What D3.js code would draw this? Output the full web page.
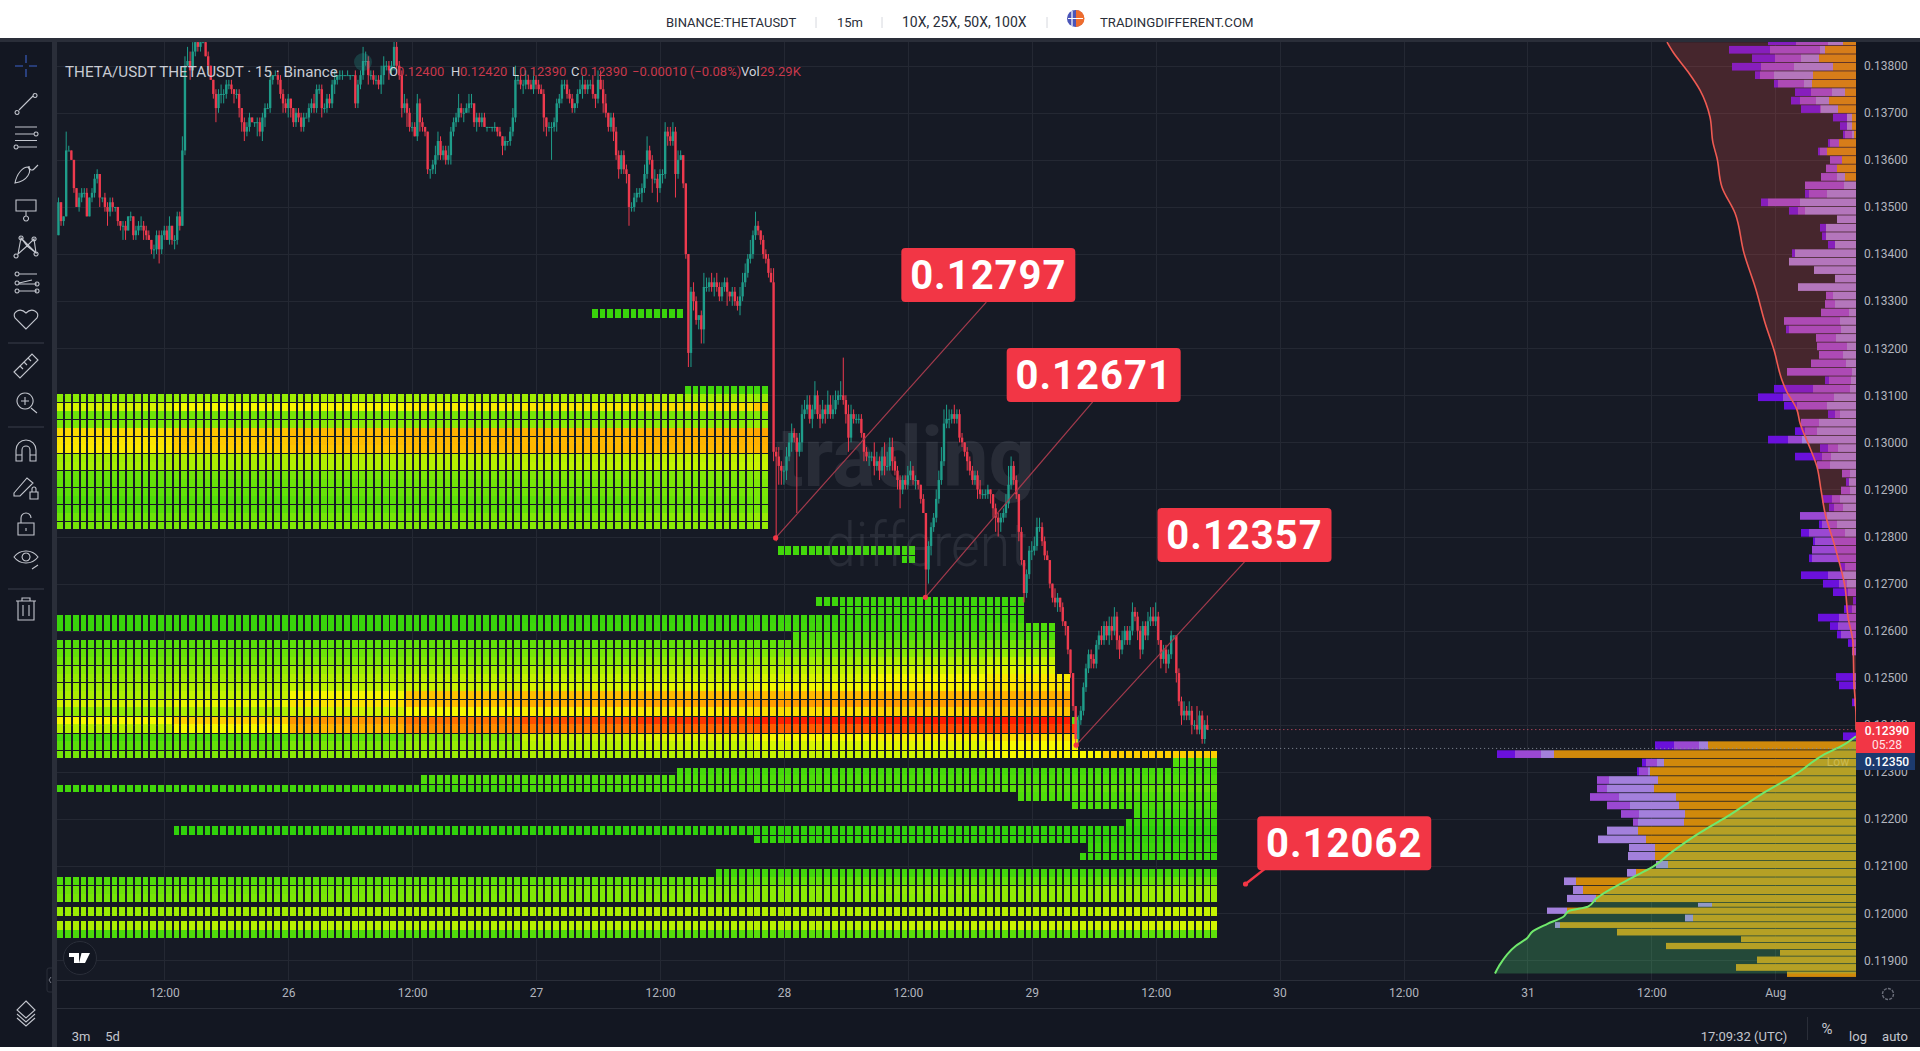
<!DOCTYPE html>
<html lang="en">

<head>
    <meta charset="UTF-8">
    <title>THETA/USDT</title>
    <style>
        html, body { margin: 0; padding: 0; background: #fff; overflow: hidden; }
        svg { display: block; font-family: Roboto, sans-serif; }
    </style>
</head>

<body>
    <script src="https://cdn.jsdelivr.net/npm/d3@7"></script>
    <script>
        // prices in tenths of a thousandth (0.0001)
        const firstOpen = 1344;
        const closes = [
            1351,1347,1348,1362,1362,1360,1354,1350,1352,1353, 1353,1348,1352,1353,1356,1357,1352,1352,1350,1349,
            1351,1350,1350,1347,1346,1346,1345,1348,1348,1344, 1345,1346,1346,1345,1344,1343,1341,1341,1344,1341,
            1344,1345,1343,1346,1343,1343,1348,1346,1362,1380, 1381,1379,1383,1385,1384,1385,1385,1382,1380,1377,
            1374,1371,1374,1374,1374,1376,1376,1375,1374,1374, 1371,1368,1366,1367,1369,1368,1368,1368,1366,1369,
            1371,1371,1377,1378,1378,1377,1374,1372,1371,1373, 1371,1368,1370,1369,1367,1369,1369,1371,1372,1371,
            1375,1375,1371,1371,1373,1372,1376,1377,1378,1378, 1378,1378,1378,1378,1378,1372,1376,1378,1381,1381,
            1378,1378,1377,1377,1376,1378,1380,1380,1379,1380, 1384,1380,1378,1371,1372,1370,1367,1367,1365,1372,
            1368,1367,1366,1358,1358,1359,1361,1364,1361,1362, 1360,1361,1366,1368,1369,1371,1370,1370,1371,1372,
            1372,1368,1369,1368,1369,1367,1367,1367,1367,1367, 1366,1365,1363,1364,1364,1366,1369,1377,1377,1376,
            1376,1377,1376,1375,1377,1376,1375,1374,1369,1367, 1367,1367,1368,1372,1373,1376,1376,1374,1373,1371,
            1372,1374,1375,1376,1375,1376,1376,1374,1373,1377, 1375,1372,1370,1367,1369,1366,1361,1358,1361,1358,
            1357,1350,1350,1352,1353,1353,1354,1357,1362,1360, 1356,1356,1354,1357,1357,1366,1365,1364,1366,1357,
            1360,1361,1355,1340,1319,1332,1330,1326,1327,1324, 1333,1333,1334,1333,1334,1333,1331,1333,1334,1332,
            1331,1332,1330,1329,1331,1334,1336,1339,1340,1344, 1346,1345,1343,1340,1339,1336,1334,1298,1297,1295,
            1294,1294,1297,1300,1302,1301,1298,1300,1306,1307, 1308,1305,1307,1310,1306,1305,1307,1306,1308,1306,
            1307,1309,1310,1310,1309,1306,1301,1306,1305,1305, 1305,1302,1298,1297,1297,1297,1295,1296,1294,1297,
            1295,1295,1299,1296,1294,1292,1290,1292,1291,1293, 1294,1292,1292,1291,1288,1285,1273,1278,1282,1284,
            1288,1292,1296,1304,1305,1305,1306,1305,1306,1301, 1300,1298,1296,1294,1292,1293,1290,1289,1289,1289,
            1290,1289,1286,1284,1283,1284,1285,1287,1291,1295, 1292,1289,1281,1275,1268,1272,1277,1277,1278,1282,
            1282,1279,1276,1275,1270,1267,1266,1267,1265,1262, 1261,1256,1251,1244,1237,1241,1243,1248,1252,1255,
            1254,1253,1257,1259,1258,1261,1259,1261,1260,1263, 1258,1256,1258,1260,1258,1260,1264,1263,1260,1256,
            1261,1259,1262,1263,1262,1263,1258,1254,1256,1253, 1255,1259,1259,1251,1245,1242,1243,1242,1243,1240,
            1240,1239,1242,1237,1240,1239
        ];
        const wickUp = [
            1,0,0,4,1,0,0,0,1,1, 1,1,0,1,1,1,0,0,1,1, 1,1,0,0,0,1,1,0,1,0, 1,1,2,1,1,1,0,1,1,1,
            1,1,1,2,0,1,1,1,3,2, 3,2,2,2,1,1,0,1,1,0, 0,1,1,2,1,1,1,1,0,1, 1,0,1,1,1,0,0,1,1,1,
            1,1,2,0,1,1,1,1,1,1, 0,0,1,1,1,1,1,1,1,2, 1,1,1,1,1,1,1,2,0,1, 1,0,1,0,0,1,1,1,3,2,
            1,1,1,1,1,2,2,1,1,1, 2,2,1,1,2,1,1,1,1,2, 1,1,0,0,0,1,2,2,1,1, 1,2,1,1,1,3,1,1,1,2,
            2,0,1,1,1,1,0,0,0,1, 0,1,0,1,0,1,2,3,1,1, 1,2,1,1,2,1,1,1,1,0, 1,1,1,1,1,1,1,1,1,1,
            0,1,2,2,1,1,1,2,0,2, 2,2,2,0,1,1,1,1,1,1, 1,0,1,1,1,1,1,2,3,1, 1,2,1,1,1,2,1,2,2,1,
            2,1,0,0,0,1,2,1,0,1, 3,2,1,2,1,2,1,1,1,1, 0,1,1,1,2,2,2,1,3,1, 3,1,0,1,1,1,1,3,1,2,
            1,1,2,2,2,1,1,2,2,2, 2,2,1,3,1,2,2,1,3,2, 3,2,1,3,8,1,2,2,1,1, 1,1,0,1,1,1,3,2,1,2,
            3,3,2,2,1,1,1,1,1,2, 2,1,1,0,0,1,0,1,1,1, 2,2,3,3,3,2,1,2,1,1, 1,0,1,1,1,1,1,2,1,1,
            1,0,0,1,1,1,1,2,4,2, 1,1,0,1,0,1,1,2,2,2, 2,1,1,1,0,0,2,1,0,1, 0,0,0,0,0,1,1,1,1,1,
            1,1,1,1,2,1,1,2,2,2, 1,1,2,1,1,1,2,1,1,1, 1,1,2,2,2,3,1,0,1,1, 1,1,0,0,1,1,2,1,2,1,
            1,4,1,1,1,2
        ];
        const wickDown = [
            0,1,1,0,0,0,1,0,1,1, 1,0,0,1,1,1,2,1,1,3, 1,1,1,1,1,3,2,0,1,1, 1,1,1,2,1,0,1,2,1,3,
            1,1,0,1,1,2,1,1,0,1, 0,2,0,1,1,1,0,0,1,0, 1,3,1,2,2,1,1,1,2,1, 2,2,2,1,1,0,1,3,1,2,
            2,0,1,1,0,1,1,2,1,2, 2,1,1,1,1,1,0,1,1,1, 1,1,2,1,1,1,1,2,1,1, 1,0,0,1,0,1,1,1,1,1,
            2,1,1,1,1,2,2,1,2,1, 1,1,1,2,1,3,1,1,0,1, 2,1,1,1,2,1,2,1,1,1, 1,1,2,1,1,1,1,2,0,1,
            1,1,2,1,1,0,1,0,1,1, 1,0,2,1,1,1,1,1,1,1, 2,1,1,0,1,1,1,0,3,2, 1,7,1,2,1,1,1,1,1,1,
            1,1,0,2,1,1,1,1,2,1, 0,2,1,1,1,2,1,2,1,1, 2,4,1,1,1,1,2,1,1,1, 3,1,3,1,2,1,2,1,1,5,
            1,0,1,1,3,3,2,1,2,3, 3,1,1,1,2,1,1,1,1,3, 1,2,1,1,2,1,1,1,1,1, 1,1,1,1,1,1,0,2,18,4,
            3,3,2,1,2,1,13,1,2,1, 1,1,2,1,1,2,1,2,1,1, 1,1,1,1,1,2,3,1,1,1, 1,1,2,1,2,1,2,1,2,1,
            2,1,1,2,1,2,4,1,1,1, 1,1,2,1,1,0,6,3,2,1, 1,1,1,1,1,2,1,1,1,1, 1,1,2,1,1,1,2,1,1,1,
            1,2,2,3,3,2,1,1,1,1, 1,1,2,1,2,1,1,2,1,1, 1,1,1,0,1,1,1,2,1,1, 2,1,1,1,1,1,1,1,1,1,
            2,1,1,1,1,1,1,2,2,1, 2,2,1,1,1,1,1,1,2,2, 1,1,1,1,1,1,1,2,1,2, 1,1,1,2,1,2,1,1,1,2,
            1,1,1,1,1,0
        ];

        // liquidation heat map: [row, first column, last column + 1, level per 15 columns]
        const heatRow = [-36,-27,-26,-25,-24,-23,-22,-21,-20,-19,-18,-17,-16,-15,-14,-13,-12,-11,-8,-7,-2,-1,0,1,2,3,4,5,6,7,8,9,10,11,12,12,13,14,15,16,17,18,19,20,21,22,23,24,25,26,27,28,30,31,32,33,34.55,36.2,37.2];
        const heatFrom = [69,81,0,0,0,0,0,0,0,0,0,0,0,0,0,0,0,0,93,109,98,101,0,0,95,0,0,0,0,0,0,0,0,0,0,131,0,0,0,0,144,80,47,0,124,131,139,138,15,90,133,132,85,0,0,0,0,0,0];
        const heatTo = [81,92,92,92,92,92,92,92,92,92,92,92,92,92,92,92,92,92,111,111,125,125,125,129,129,129,129,129,129,131,131,131,131,131,131,132,132,132,132,150,150,150,150,150,150,150,150,150,150,150,150,150,150,150,150,150,150,150,150];
        const heatLevels = [
            [.5],[.7],
            [2.2,2.4,2.6,2.6,2.6,2.6,2.4],[3.5,4,4,4.2,4.3,4.5,5],[1.6,1.7,1.8,1.8,1.8,1.8,2],[1.9,2.1,2.2,2.2,2.2,2.2,2.4],
            [4.6,5,5.3,5.5,5.5,5.6,5.8],[4.4,4.9,5.2,5.3,5.3,5.4,5.5],[4.3,4.8,5,5.2,5.3,5.3,5.4],[2.6,2.8,2.9,3,3,3.1,3.2],
            [2.7,2.8,2.9,3,3.1,3.2,3.3],[1.5,1.7,1.8,1.9,2,2,2.2],[1.4,1.5,1.6,1.7,1.8,1.9,2],[1.3,1.4,1.5,1.6,1.7,1.8,1.9],
            [1,1.1,1.2,1.3,1.3,1.5,1.8],[1.1,1.2,1.3,1.3,1.4,1.6,1.8],[1.6,1.7,1.8,1.9,2,2.2,2.4],[1.8,1.9,2,2,2.1,2.2,2.4],
            [.7],[.6],[.6],[.6],
            [.5,.5,.5,.5,.5,.5,.6,.6,.6],[.5,.5,.5,.5,.6,.6,.7,.7,1],[1],[1.1,1.2,1.3,1.4,1.4,1.4,1.4,1.5,1.7],
            [1.4,1.5,1.6,1.7,1.8,1.9,2,2.1,2.3],[1.7,1.8,2,2.1,2.2,2.4,2.6,2.9,3.2],[2.1,2.3,2.5,2.6,2.8,3,3.1,3.4,3.7],
            [2.4,2.6,2.9,3.1,3.2,3.3,3.5,4,4.3],[2.6,2.9,3.1,3.3,3.5,3.7,3.9,4.1,4.4],[2.8,3.2,4,5,5.2,5.3,5.3,5.4,5.5],
            [3.4,3.8,4.4,5.2,5.6,5.8,6,6,6],[2.3,2.8,3.4,4,4.2,4.3,4.5,4.7,5],[4,4.8,6.2,7.2,8,8.5,8.9,9,9],[1.5],
            [3,4,5.4,6.4,7,7.4,7.7,8,8.2],[.8,.9,1.3,2,3.2,3.6,4,4.2,4.5],[1.2,1.4,1.9,2.4,3,3.2,3.5,3.7,4],
            [1.8,2,2.2,2.5,2.8,3,3.2,3.4,4,4.8],[1],[.8],[1],[.7,.7,.7,.7,.9,1,1.1,1.1,1.2,1.4],
            [1],[.9],[.7],[.5],[.3],[.4],[.6],[.5],[.7],
            [1,1.1,1.2,1.3,1.3,1.3,1.4,1.4,1.4,1.5],[1.6,1.7,1.8,1.9,2,2,2.2,2.3,2.3,2.5],[1.8,1.9,1.9,2,2,2.1,2.2,2.2,2.3,2.5],
            [2.5,2.6,2.7,2.8,2.8,2.9,2.9,3,3,3.2],[2.8,3,3,3,3,3,3,3.2,3.3,3.4],[.9,1,1,1,1.1,1.1,1.2,1.2,1.2,1.3]
        ];
        const heatBasePrice = 12635;
        const heatBin = 18;

        // volume profile above the low, one bin per 0.00018
        const vpUpperFirst = 13860;
        const vpUpperBin = 18;
        const vpUpperOrange = [13,31,37,23,43,44,11,27,18,4, 4,2,17,29,14,19,11];
        const vpUpperLight = [15,5,18,39,39,8,13,13,17,5, 5,2,0,0,0,0,8,12,29,56, 51,19,30,30,21,61,67,42,21,58,
            23,21,7,16,15,20,9,13,10,4, 5,6,22,29,16,37,39,54,18,25, 26,6,7,6,16,13,29,19,11,0, 0,0,0,13,9];
        const vpUpperMid = [32,50,26,33,14,26,21,16,1,0, 0,7,9,7,12,11,16,39,18,32, 7,0,0,0,0,0,0,0,0,0,
            7,10,28,56,52,20,30,24,35,65, 22,37,51,30,5,18,12,14,10,9, 13,8,0,9,8,9,27,15,36,41,
            44,44,11,15,8,8,0,4,17,18, 15,4,4,0,0,3,3,0,2,0, 0,0,0];
        const vpUpperDeep = [28,41,23,29,5,4,16,9,19,14, 7,2,2,2,0,0,0,0,4,7, 9,0,6,4,7,3,0,0,0,0,
            0,0,0,0,3,0,0,0,0,0, 4,39,25,13,7,0,10,20,8,27, 0,0,3,0,10,5,0,3,8,2,
            0,3,5,27,16,15,3,8,21,8, 4,4,0,0,0,17,14,0,2,0, 0,0,13];
        const vpUpperBins = 83;

        // volume profile below the low, row tops as read
        const vpLowerTop = [12365,12346,12328,12310,12291,12273,12255,12237,12219,12201,12184,12165,12147,12130,12111,12094,12076,12058,12039,12022,12012,11997,11981,11967,11951,11937,11922,11908,11892,11876];
        const vpLowerOrange = [148,302,192,206,198,202,180,177,171,172,218,210,201,201,188,220,280,273,260,144,289,163,296,239,115,190,76,99,120,69];
        const vpLowerLight = [9,13,7,2,49,47,57,49,46,46,31,48,26,27,12,9,12,10,29,14,20,8,5,0,0,0,0,0,0,0];
        const vpLowerMid = [25,26,11,9,12,10,29,23,18,5];
        const vpLowerDeep = [19,18,4,2];
        const vpBottom = 11863;

        // the two profile curves, price and volume
        const sellCurvePrice = [13850,13829,13787,13748,13691,13636,13604,13542,13487,13402,13324,13254,13196,13132,13111,13069,13041,12988,12948,12899,12850,12778,12693,12629,12574,12489,12417,12390];
        const sellCurveVol = [189,183,168,156,146,143,139,134,121,112,100,91,82,74,70,59,56,46,39,35,31,21,11,8,3,2,0,0];
        const buyCurvePrice = [11872,11888,11931,11947,11962,11977,11992,12005,12014,12031,12081,12099,12127,12171,12205,12251,12297,12336,12357,12376];
        const buyCurveVol = [361,357,340,329,323,309,293,287,268,260,219,203,186,156,129,96,59,33,13,0];

        const priceTicks = [13800,13700,13600,13500,13400,13300,13200,13100,13000,12900,12800,12700,12600,12500,12400,12300,12200,12100,12000,11900];
        const timeTicks = [12,24,36,48,60,72,84,96,108,120,132,144,156,168];
        const timeLabels = ['12:00','26','12:00','27','12:00','28','12:00','29','12:00','30','12:00','31','12:00','Aug'];

        // the drawn targets: label, start hour, end hour, end price
        const targetLabels = ['0.12797','0.12671','0.12357','0.12062'];
        const targetPrice = [12797,12671,12357,12062];
        const targetHour = [71.2,85.7,100.3,116.7];
        const targetEndHour = [91.6,101.9,116.6,118.9];
        const targetEndPrice = [13298,13086,12746,12100];

        const lastPrice = 12390;
        const lowPrice = 12350;

        const WIDTH = 1920, HEIGHT = 1051;
        const PANE = { left: 57, right: 1856, top: 42, bottom: 980 };

        const y = d3.scaleLinear().domain([13800, 11900]).range([65.7, 960.3]);
        const x = d3.scaleLinear().domain([12, 168]).range([164.3, 1775.3]);
        const vp = d3.scaleLinear().domain([0, 359]).range([1856, 1497]);
        const heatColor = d3.scaleLinear()
            .domain([0, 1, 2, 3, 4, 5, 6, 7, 8, 9])
            .range(['#22cc0c', '#4fdc0a', '#7fe806', '#b6f000', '#f6f800', '#ffc400', '#ff9c00', '#ff7a00', '#ff4f00', '#ff1a00'])
            .clamp(true);

        const svg = d3.select('body').append('svg').attr('width', WIDTH).attr('height', HEIGHT);

        svg.append('rect').attr('width', WIDTH).attr('height', HEIGHT).attr('fill', '#131722');
        svg.append('rect').attr('x', PANE.left).attr('y', PANE.top)
            .attr('width', PANE.right - PANE.left).attr('height', PANE.bottom - PANE.top).attr('fill', '#161a25');

        svg.append('defs').append('clipPath').attr('id', 'pane').append('rect')
            .attr('x', PANE.left).attr('y', PANE.top)
            .attr('width', PANE.right - PANE.left).attr('height', PANE.bottom - PANE.top);

        const pane = svg.append('g').attr('clip-path', 'url(#pane)');

        // grid
        pane.append('g').selectAll('line').data(priceTicks).join('line')
            .attr('x1', PANE.left).attr('x2', PANE.right)
            .attr('y1', d => Math.round(y(d)) + .5).attr('y2', d => Math.round(y(d)) + .5)
            .attr('stroke', '#242833');
        pane.append('g').selectAll('line').data(timeTicks).join('line')
            .attr('y1', PANE.top).attr('y2', PANE.bottom)
            .attr('x1', d => Math.round(x(d)) + .5).attr('x2', d => Math.round(x(d)) + .5)
            .attr('stroke', '#242833');

        // volume profile
        const vpRows = [];
        for (let k = 0; k < vpUpperBins; k++) {
            const top = vpUpperFirst - k * vpUpperBin;
            vpRows.push({ top: top, bottom: top - vpUpperBin, o: vpUpperOrange[k] || 0, l: vpUpperLight[k] || 0, m: vpUpperMid[k] || 0, d: vpUpperDeep[k] || 0 });
        }
        vpLowerTop.forEach((top, k) => {
            vpRows.push({
                top: top, bottom: k + 1 < vpLowerTop.length ? vpLowerTop[k + 1] : vpBottom,
                o: vpLowerOrange[k] || 0, l: vpLowerLight[k] || 0, m: vpLowerMid[k] || 0, d: vpLowerDeep[k] || 0
            });
        });
        const vpKeys = ['o', 'l', 'm', 'd'];
        const vpColors = { o: '#d0890b', l: '#a380dc', m: '#9a48d2', d: '#6a10dc' };
        const vpStack = d3.stack().keys(vpKeys)(vpRows);
        pane.append('g').selectAll('g').data(vpStack).join('g')
            .attr('fill', s => vpColors[s.key])
            .selectAll('rect').data(s => s).join('rect')
            .attr('x', d => vp(d[1]))
            .attr('width', d => vp(d[0]) - vp(d[1]))
            .attr('y', d => y(d.data.top))
            .attr('height', d => Math.max(1, y(d.data.bottom) - y(d.data.top) - .8));

        const sellCurve = sellCurvePrice.map((p, i) => ({ p: p, v: sellCurveVol[i] }));
        const buyCurve = buyCurvePrice.map((p, i) => ({ p: p, v: buyCurveVol[i] }));
        const curveArea = d3.area().y(d => y(d.p)).x0(d => vp(d.v)).x1(vp(0)).curve(d3.curveMonotoneY);
        const curveLine = d3.line().y(d => y(d.p)).x(d => vp(d.v)).curve(d3.curveMonotoneY);
        pane.append('path').attr('d', curveArea(sellCurve)).attr('fill', 'rgba(240,80,77,.22)');
        pane.append('path').attr('d', curveArea(buyCurve)).attr('fill', 'rgba(85,240,132,.22)');
        pane.append('path').attr('d', curveLine(sellCurve)).attr('fill', 'none').attr('stroke', '#ef5a52').attr('stroke-width', 1.6);
        pane.append('path').attr('d', curveLine(buyCurve)).attr('fill', 'none').attr('stroke', '#70e86c').attr('stroke-width', 2);

        // heat map
        const COL_HOURS = .75, COL_START = 1.65, CELL_W = 5.8;
        const heatCells = [];
        heatRow.forEach((r, i) => {
            const levels = heatLevels[i];
            for (let c = heatFrom[i]; c < heatTo[i]; c++) {
                heatCells.push({ r: r, c: c, level: levels[Math.min(Math.floor(c / 15), levels.length - 1)] });
            }
        });
        const rowTop = r => y(heatBasePrice - heatBin * r);
        const hasGap = r => Number.isInteger(r) && (r < 0 ? r % 2 !== 0 : r % 2 === 0);
        pane.append('g').attr('shape-rendering', 'crispEdges').selectAll('rect').data(heatCells).join('rect')
            .attr('x', d => Math.round(x(COL_START + COL_HOURS * d.c)))
            .attr('width', d => Math.round(x(COL_START + COL_HOURS * d.c) + CELL_W) - Math.round(x(COL_START + COL_HOURS * d.c)))
            .attr('y', d => Math.round(rowTop(d.r)) + (hasGap(d.r) ? 1 : 0))
            .attr('height', d => Math.round(rowTop(d.r + 1)) - Math.round(rowTop(d.r)) - (hasGap(d.r) ? 1 : 0))
            .attr('fill', d => heatColor(d.level));

        // watermark
        pane.append('text').attr('x', 776).attr('y', 486).text('trading')
            .attr('font-size', 84).attr('font-weight', 700).attr('font-family', 'Roboto')
            .attr('textLength', 259).attr('lengthAdjust', 'spacingAndGlyphs')
            .attr('fill', 'rgba(130,134,148,.17)');
        pane.append('text').attr('x', 825).attr('y', 566).text('different')
            .attr('font-size', 62).attr('font-weight', 300).attr('font-family', 'Roboto')
            .attr('textLength', 203).attr('lengthAdjust', 'spacingAndGlyphs')
            .attr('fill', 'rgba(130,134,148,.17)');

        // candles
        const BAR_START = 1.75, BAR_HOURS = .25, BODY_W = 2.4;
        const candles = closes.map((c, i) => {
            const o = i ? closes[i - 1] : firstOpen;
            return { i: i, o: o, c: c, h: Math.max(o, c) + wickUp[i], l: Math.min(o, c) - wickDown[i] };
        });
        const barX = d => x(BAR_START + BAR_HOURS * d.i);
        const barColor = d => d.c >= d.o ? '#1f9d8a' : '#ee3a4e';
        const candleG = pane.append('g');
        candleG.selectAll('line').data(candles).join('line')
            .attr('x1', d => barX(d)).attr('x2', d => barX(d))
            .attr('y1', d => y(d.h * 10)).attr('y2', d => y(d.l * 10))
            .attr('stroke', barColor);
        candleG.selectAll('rect').data(candles).join('rect')
            .attr('x', d => barX(d) - BODY_W / 2).attr('width', BODY_W)
            .attr('y', d => y(Math.max(d.o, d.c) * 10))
            .attr('height', d => Math.max(1, Math.abs(y(d.o * 10) - y(d.c * 10))))
            .attr('fill', barColor);

        // last price and low dotted lines
        pane.append('line').attr('x1', x(113)).attr('x2', PANE.right)
            .attr('y1', y(lastPrice)).attr('y2', y(lastPrice))
            .attr('stroke', '#e0556a').attr('stroke-dasharray', '1 3');
        pane.append('line').attr('x1', x(targetHour[2])).attr('x2', PANE.right)
            .attr('y1', y(lowPrice)).attr('y2', y(lowPrice))
            .attr('stroke', '#8a8f9c').attr('stroke-dasharray', '1 3');
        pane.append('text').attr('x', 1838).attr('y', 766).attr('text-anchor', 'middle')
            .attr('font-size', 12).attr('fill', '#d6c25e').attr('opacity', .75).text('Low');

        // target drawings
        const BOX_W = 174, BOX_H = 54;
        const boxOffset = [2, 1, 0, 76];
        targetLabels.forEach((label, i) => {
            const x0 = x(targetHour[i]), y0 = y(targetPrice[i]);
            const x1 = x(targetEndHour[i]), y1 = y(targetEndPrice[i]);
            const last = i === targetLabels.length - 1;
            pane.append('line').attr('x1', x0).attr('y1', y0).attr('x2', x1).attr('y2', y1)
                .attr('stroke', last ? '#f23645' : '#a33a4c').attr('stroke-width', last ? 2.5 : 1.2);
            pane.append('circle').attr('cx', x0).attr('cy', y0).attr('r', 2.6).attr('fill', '#f23645');
            const cx = x1 + boxOffset[i];
            const top = last ? y1 - BOX_H + 4 : y1 - BOX_H;
            pane.append('rect').attr('x', cx - BOX_W / 2).attr('y', top).attr('width', BOX_W).attr('height', BOX_H)
                .attr('rx', 4).attr('fill', '#f23645');
            pane.append('text').attr('x', cx).attr('y', top + BOX_H / 2 + 14).attr('text-anchor', 'middle')
                .attr('font-size', 40).attr('font-weight', 700).attr('letter-spacing', 1)
                .attr('font-family', 'Roboto').attr('fill', '#fff').text(label);
        });

        // legend
        pane.append('circle').attr('cx', 363).attr('cy', 62).attr('r', 9).attr('fill', 'rgba(38,166,154,.25)');
        pane.append('text').attr('x', 65).attr('y', 77).attr('font-size', 15.2).attr('fill', '#c9ccd4')
            .text('THETA/USDT THETAUSDT · 15 · Binance');
        const legendParts = [
            [389, 'O', '#d1d4dc'], [397, '0.12400', '#c8384b'], [451, 'H', '#d1d4dc'], [460, '0.12420', '#c8384b'],
            [512, 'L', '#d1d4dc'], [519, '0.12390', '#c8384b'], [571, 'C', '#d1d4dc'], [580, '0.12390', '#c8384b'],
            [632, '\u22120.00010 (\u22120.08%)', '#c8384b'], [741, 'Vol', '#d1d4dc'], [760, '29.29K', '#c8384b']
        ];
        pane.append('g').selectAll('text').data(legendParts).join('text')
            .attr('x', d => d[0]).attr('y', 76).attr('font-size', 13).attr('fill', d => d[2]).text(d => d[1]);

        // TradingView badge
        svg.append('circle').attr('cx', 80).attr('cy', 958).attr('r', 16.5).attr('fill', '#131722').attr('stroke', '#2a2e39');
        svg.append('path').attr('d', 'M69 953h10v10h-5v-6h-5zM81.500 953h8.500l-5 10h-6z').attr('fill', '#fff');

        // axes
        const timeAxis = d3.axisBottom(x).tickValues(timeTicks).tickFormat((d, i) => timeLabels[i]).tickSize(0).tickPadding(8);
        const timeG = svg.append('g').attr('transform', `translate(0,${PANE.bottom})`).call(timeAxis);
        timeG.select('.domain').remove();
        timeG.selectAll('text').attr('font-size', 12).attr('font-family', 'Roboto').attr('fill', '#b2b5be');

        const priceAxis = d3.axisRight(y).tickValues(priceTicks).tickFormat(d => (d / 1e5).toFixed(5)).tickSize(0).tickPadding(8);
        const priceG = svg.append('g').attr('transform', `translate(${PANE.right},0)`).call(priceAxis);
        priceG.select('.domain').remove();
        priceG.selectAll('text').attr('font-size', 12).attr('font-family', 'Roboto').attr('fill', '#b2b5be');

        // price tags
        svg.append('rect').attr('x', 1856).attr('y', 722).attr('width', 59).attr('height', 31).attr('fill', '#f23645');
        svg.append('rect').attr('x', 1856).attr('y', 753).attr('width', 59).attr('height', 17).attr('fill', '#1c3a6e');
        svg.append('text').attr('x', 1887).attr('y', 734.5).attr('text-anchor', 'middle').attr('font-size', 12).attr('font-weight', 500).attr('fill', '#fff').text('0.12390');
        svg.append('text').attr('x', 1887).attr('y', 749).attr('text-anchor', 'middle').attr('font-size', 12).attr('fill', '#ffe4e7').text('05:28');
        svg.append('text').attr('x', 1887).attr('y', 765.5).attr('text-anchor', 'middle').attr('font-size', 12).attr('font-weight', 500).attr('fill', '#fff').text('0.12350');

        // frame lines
        const frame = svg.append('g').attr('stroke', '#2a2e39').attr('shape-rendering', 'crispEdges');
        frame.append('line').attr('x1', PANE.left).attr('x2', WIDTH).attr('y1', 980.5).attr('y2', 980.5);
        frame.append('line').attr('x1', PANE.left).attr('x2', WIDTH).attr('y1', 1008.5).attr('y2', 1008.5);
        svg.append('rect').attr('x', 52).attr('y', 38).attr('width', 5).attr('height', 1013).attr('fill', '#2a2e39');
        svg.append('rect').attr('x', 0).attr('y', 38).attr('width', WIDTH).attr('height', 4).attr('fill', '#2a2e39');

        // header and footer
        svg.append('rect').attr('width', WIDTH).attr('height', 38).attr('fill', '#fff');
        svg.append('rect').attr('y', 1047).attr('width', WIDTH).attr('height', 4).attr('fill', '#fff');
        const headerParts = [[666, 'BINANCE:THETAUSDT', 13], [837, '15m', 13], [902, '10X, 25X, 50X, 100X', 14], [1100, 'TRADINGDIFFERENT.COM', 13.2]];
        svg.append('g').selectAll('text').data(headerParts).join('text')
            .attr('x', d => d[0]).attr('y', 26.5).attr('font-size', d => d[2]).attr('fill', '#2a2e39').text(d => d[1]);
        svg.append('g').selectAll('line').data([816, 882, 1047]).join('line')
            .attr('x1', d => d).attr('x2', d => d).attr('y1', 17).attr('y2', 28).attr('stroke', '#d6d8de');
        svg.append('circle').attr('cx', 1075.5).attr('cy', 18.5).attr('r', 8.5).attr('fill', '#4a55b8');
        svg.append('path').attr('d', 'M1076 10a8.5 8.5 0 0 1 0 17z').attr('fill', '#ee6c2d');
        svg.append('path').attr('d', 'M1072 11v15M1068 18.5h15').attr('stroke', '#fff').attr('stroke-width', 1.2);

        const footerParts = [[81, '3m', 13], [112.5, '5d', 13], [1744, '17:09:32 (UTC)', 13], [1858, 'log', 13], [1895, 'auto', 13]];
        svg.append('g').selectAll('text').data(footerParts).join('text')
            .attr('x', d => d[0]).attr('y', 1040.5).attr('text-anchor', 'middle').attr('font-size', d => d[2]).attr('fill', '#c3c6ce').text(d => d[1]);
        svg.append('text').attr('x', 1827).attr('y', 1034).attr('text-anchor', 'middle').attr('font-size', 15).attr('fill', '#c3c6ce').text('%');
        svg.append('line').attr('x1', 1807.5).attr('x2', 1807.5).attr('y1', 1017).attr('y2', 1040).attr('stroke', '#2a2e39');
        svg.append('circle').attr('cx', 1888).attr('cy', 994).attr('r', 5.5).attr('fill', 'none').attr('stroke', '#6b6f7b').attr('stroke-width', 1.4).attr('stroke-dasharray', '3 1.2');
        svg.append('path').attr('d', 'M52 968h-3a2 2 0 0 0-2 2v20a2 2 0 0 0 2 2h3').attr('fill', 'none').attr('stroke', '#2a2e39');
        svg.append('path').attr('d', 'M51 977l-2 3 2 3').attr('fill', 'none').attr('stroke', '#787b86');

        // toolbar icons, drawn round their own centre
        const icons = [
            [66, '#3d62c9', 'M0 -11V-3M0 3V11M-11 0H-3M3 0H11'],
            [103, '#c3c6ce', 'M-7 7L7 -7M-9 7.500a2 2 0 1 0 .1 0M9 -9.500a2 2 0 1 0 .1 0'],
            [137, '#c3c6ce', 'M-11 -10H11M-11 -3H8M-11 3.500H11M-8 10H11M10 -5a2 2 0 1 0 .1 0M-10 8a2 2 0 1 0 .1 0'],
            [174, '#c3c6ce', 'M-11 9C-9 -1 -3 -7 2 -7C6 -3 2 7 -11 9ZM3 -8C3 -4 6 -3 8 -5L12 -9'],
            [210, '#c3c6ce', 'M-10 -10H10V1H-10ZM0 1V6M0 6a2.500 2.500 0 1 0 .1 0'],
            [246, '#c3c6ce', 'M-8 8L-5 -8L1 0L8 -7L10 7L1 0L-8 8M-5 -8L10 7M-10 8a2 2 0 1 0 .1 0M-5 -10a2 2 0 1 0 .1 0M8 -9a2 2 0 1 0 .1 0M10 6a2 2 0 1 0 .1 0'],
            [283, '#c3c6ce', 'M-7 -9H11M-7 0L6 -3M-7 1H11M-7 8H11M-9 -11a2 2 0 1 0 .1 0M-9 -2a2 2 0 1 0 .1 0M-9 6a2 2 0 1 0 .1 0M11 -1a2 2 0 1 0 .1 0M11 6a2 2 0 1 0 .1 0'],
            [318, '#c3c6ce', 'M0 11L-11 0C-14 -6 -6 -11 0 -5C6 -11 14 -6 11 0Z'],
            [366, '#c3c6ce', 'M-12 6L6 -12L12 -6L-6 12ZM-6 0L-3 3M-2 -4L1 -1M2 -8L5 -5'],
            [402, '#c3c6ce', 'M-1 -9a8 8 0 1 0 .1 0M5 6L11 11M-5 -1H3M-1 -5V3'],
            [451, '#c3c6ce', 'M-10 10V-1A10 10 0 0 1 10 -1V10H4V-1A4 4 0 0 0 -4 -1V10ZM-10 4H-4M4 4H10'],
            [487, '#c3c6ce', 'M-12 6L1 -9L7 -4L-6 9L-12 9ZM4 5H12V12H4ZM6 5V2A2 2 0 0 1 10 2V5'],
            [524, '#c3c6ce', 'M-8 -1H8V11H-8ZM-5 -1V-6A5 5 0 0 1 5 -6M0 4V7'],
            [560, '#c3c6ce', 'M-12 -3C-6 -11 6 -11 12 -3C6 5 -6 5 -12 -3ZM0 -7a4 4 0 1 0 .1 0M6 9L12 5'],
            [609, '#c3c6ce', 'M-10 -8H10M-4 -8V-11H4V-8M-8 -8V11H8V-8M-3 -4V7M3 -4V7'],
            [1012, '#c3c6ce', 'M0 -11L9 -2L0 6L-9 -2ZM-9 2L0 10L9 2M-9 6L0 14L9 6']
        ];
        svg.append('g').selectAll('path').data(icons).join('path')
            .attr('transform', d => `translate(26,${d[0]})`)
            .attr('d', d => d[2]).attr('fill', 'none').attr('stroke', d => d[1]).attr('stroke-width', 1.1);
        svg.append('g').selectAll('line').data([343, 427, 589]).join('line')
            .attr('x1', 8).attr('x2', 44).attr('y1', d => d).attr('y2', d => d).attr('stroke', '#3a3e4a');
    </script>
</body>

</html>
